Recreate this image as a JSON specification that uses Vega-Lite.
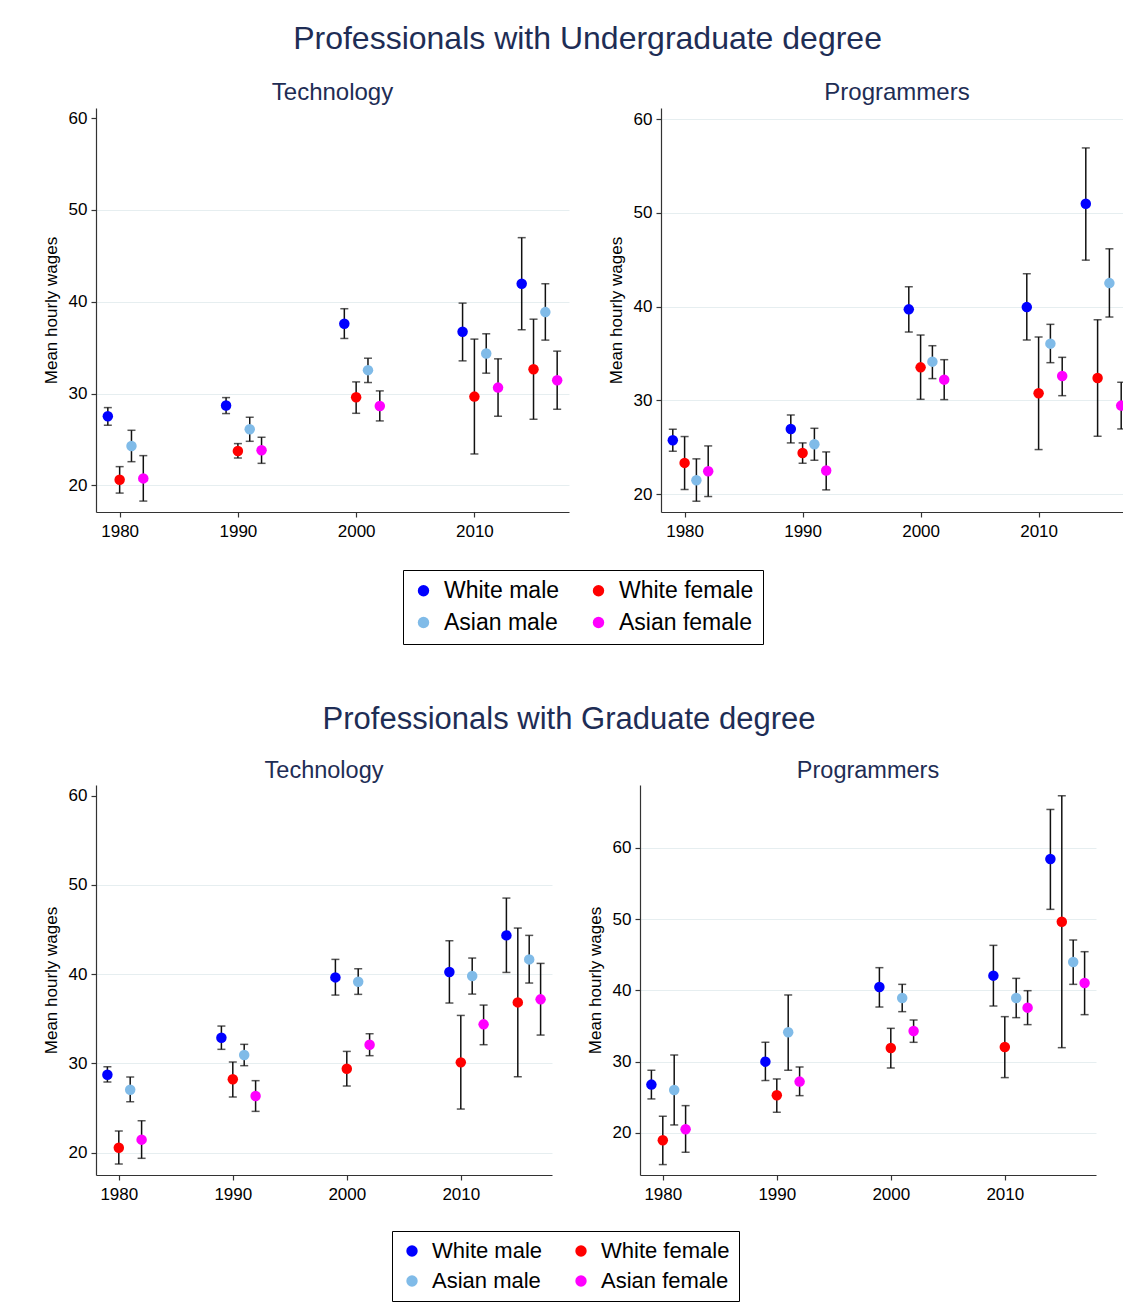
{
  "$schema": "https://vega.github.io/schema/vega-lite/v6.json",
  "background": "white",
  "padding": {"left": 42, "top": 23, "right": 0, "bottom": 0},
  "config": {
    "font": "Liberation Sans",
    "view": {"stroke": null},
    "axis": {"domainColor": "#333333", "tickColor": "#333333", "labelColor": "#000000", "labelFont": "Liberation Sans", "labelFontSize": 17, "titleFont": "Liberation Sans", "titleFontSize": 17, "titleFontWeight": "normal", "titleColor": "#000000", "gridColor": "#e6eef0", "tickSize": 5, "domainWidth": 1.2, "tickWidth": 1.2},
    "legend": {"labelFont": "Liberation Sans", "labelFontSize": 23, "labelColor": "#000000", "symbolType": "circle", "symbolSize": 130, "strokeColor": "#000000", "padding": 9, "columnPadding": 27, "rowPadding": 8, "labelOffset": 9, "symbolStrokeWidth": 0, "direction": "horizontal"}
  },
  "datasets": {
    "ugTech": [
      {"g": "White male", "yr": 1979, "m": 27.53, "lo": 26.55, "hi": 28.47},
      {"g": "White female", "yr": 1980, "m": 20.62, "lo": 19.16, "hi": 22.04},
      {"g": "Asian male", "yr": 1981, "m": 24.29, "lo": 22.58, "hi": 26.0},
      {"g": "Asian female", "yr": 1982, "m": 20.76, "lo": 18.29, "hi": 23.24},
      {"g": "White male", "yr": 1989, "m": 28.69, "lo": 27.82, "hi": 29.56},
      {"g": "White female", "yr": 1990, "m": 23.75, "lo": 22.98, "hi": 24.55},
      {"g": "Asian male", "yr": 1991, "m": 26.11, "lo": 24.8, "hi": 27.42},
      {"g": "Asian female", "yr": 1992, "m": 23.82, "lo": 22.4, "hi": 25.24},
      {"g": "White male", "yr": 1999, "m": 37.6, "lo": 36.0, "hi": 39.24},
      {"g": "White female", "yr": 2000, "m": 29.6, "lo": 27.85, "hi": 31.27},
      {"g": "Asian male", "yr": 2001, "m": 32.55, "lo": 31.2, "hi": 33.85},
      {"g": "Asian female", "yr": 2002, "m": 28.65, "lo": 27.02, "hi": 30.29},
      {"g": "White male", "yr": 2009, "m": 36.73, "lo": 33.56, "hi": 39.85},
      {"g": "White female", "yr": 2010, "m": 29.67, "lo": 23.42, "hi": 35.93},
      {"g": "Asian male", "yr": 2011, "m": 34.36, "lo": 32.22, "hi": 36.51},
      {"g": "Asian female", "yr": 2012, "m": 30.65, "lo": 27.53, "hi": 33.78},
      {"g": "White male", "yr": 2014, "m": 41.96, "lo": 36.95, "hi": 46.98},
      {"g": "White female", "yr": 2015, "m": 32.65, "lo": 27.2, "hi": 38.1},
      {"g": "Asian male", "yr": 2016, "m": 38.87, "lo": 35.82, "hi": 41.96},
      {"g": "Asian female", "yr": 2017, "m": 31.45, "lo": 28.29, "hi": 34.62}
    ],
    "ugProg": [
      {"g": "White male", "yr": 1979, "m": 25.75, "lo": 24.58, "hi": 26.93},
      {"g": "White female", "yr": 1980, "m": 23.34, "lo": 20.5, "hi": 26.15},
      {"g": "Asian male", "yr": 1981, "m": 21.49, "lo": 19.25, "hi": 23.77},
      {"g": "Asian female", "yr": 1982, "m": 22.45, "lo": 19.75, "hi": 25.15},
      {"g": "White male", "yr": 1989, "m": 26.96, "lo": 25.47, "hi": 28.45},
      {"g": "White female", "yr": 1990, "m": 24.4, "lo": 23.3, "hi": 25.47},
      {"g": "Asian male", "yr": 1991, "m": 25.33, "lo": 23.62, "hi": 27.03},
      {"g": "Asian female", "yr": 1992, "m": 22.52, "lo": 20.46, "hi": 24.51},
      {"g": "White male", "yr": 1999, "m": 39.72, "lo": 37.3, "hi": 42.13},
      {"g": "White female", "yr": 2000, "m": 33.53, "lo": 30.12, "hi": 36.98},
      {"g": "Asian male", "yr": 2001, "m": 34.14, "lo": 32.33, "hi": 35.84},
      {"g": "Asian female", "yr": 2002, "m": 32.22, "lo": 30.09, "hi": 34.35},
      {"g": "White male", "yr": 2009, "m": 39.96, "lo": 36.45, "hi": 43.52},
      {"g": "White female", "yr": 2010, "m": 30.76, "lo": 24.76, "hi": 36.77},
      {"g": "Asian male", "yr": 2011, "m": 36.06, "lo": 34.03, "hi": 38.12},
      {"g": "Asian female", "yr": 2012, "m": 32.61, "lo": 30.51, "hi": 34.6},
      {"g": "White male", "yr": 2014, "m": 50.98, "lo": 44.97, "hi": 56.94},
      {"g": "White female", "yr": 2015, "m": 32.4, "lo": 26.18, "hi": 38.61},
      {"g": "Asian male", "yr": 2016, "m": 42.52, "lo": 38.9, "hi": 46.18},
      {"g": "Asian female", "yr": 2017, "m": 29.45, "lo": 26.96, "hi": 31.94}
    ],
    "grTech": [
      {"g": "White male", "yr": 1979, "m": 28.74, "lo": 27.92, "hi": 29.63},
      {"g": "White female", "yr": 1980, "m": 20.56, "lo": 18.73, "hi": 22.43},
      {"g": "Asian male", "yr": 1981, "m": 27.06, "lo": 25.71, "hi": 28.48},
      {"g": "Asian female", "yr": 1982, "m": 21.46, "lo": 19.37, "hi": 23.58},
      {"g": "White male", "yr": 1989, "m": 32.88, "lo": 31.58, "hi": 34.19},
      {"g": "White female", "yr": 1990, "m": 28.22, "lo": 26.24, "hi": 30.16},
      {"g": "Asian male", "yr": 1991, "m": 30.94, "lo": 29.75, "hi": 32.14},
      {"g": "Asian female", "yr": 1992, "m": 26.35, "lo": 24.63, "hi": 28.07},
      {"g": "White male", "yr": 1999, "m": 39.64, "lo": 37.66, "hi": 41.66},
      {"g": "White female", "yr": 2000, "m": 29.41, "lo": 27.47, "hi": 31.35},
      {"g": "Asian male", "yr": 2001, "m": 39.16, "lo": 37.74, "hi": 40.61},
      {"g": "Asian female", "yr": 2002, "m": 32.1, "lo": 30.87, "hi": 33.33},
      {"g": "White male", "yr": 2009, "m": 40.24, "lo": 36.77, "hi": 43.75},
      {"g": "White female", "yr": 2010, "m": 30.12, "lo": 24.89, "hi": 35.38},
      {"g": "Asian male", "yr": 2011, "m": 39.79, "lo": 37.77, "hi": 41.81},
      {"g": "Asian female", "yr": 2012, "m": 34.38, "lo": 32.1, "hi": 36.54},
      {"g": "White male", "yr": 2014, "m": 44.35, "lo": 40.2, "hi": 48.53},
      {"g": "White female", "yr": 2015, "m": 36.84, "lo": 28.51, "hi": 45.17},
      {"g": "Asian male", "yr": 2016, "m": 41.66, "lo": 39.01, "hi": 44.35},
      {"g": "Asian female", "yr": 2017, "m": 37.18, "lo": 33.18, "hi": 41.21}
    ],
    "grProg": [
      {"g": "White male", "yr": 1979, "m": 26.78, "lo": 24.77, "hi": 28.79},
      {"g": "White female", "yr": 1980, "m": 18.97, "lo": 15.56, "hi": 22.34},
      {"g": "Asian male", "yr": 1981, "m": 26.03, "lo": 21.12, "hi": 30.93},
      {"g": "Asian female", "yr": 1982, "m": 20.51, "lo": 17.29, "hi": 23.83},
      {"g": "White male", "yr": 1989, "m": 30.0, "lo": 27.34, "hi": 32.71},
      {"g": "White female", "yr": 1990, "m": 25.28, "lo": 22.9, "hi": 27.57},
      {"g": "Asian male", "yr": 1991, "m": 34.11, "lo": 28.79, "hi": 39.35},
      {"g": "Asian female", "yr": 1992, "m": 27.2, "lo": 25.23, "hi": 29.25},
      {"g": "White male", "yr": 1999, "m": 40.47, "lo": 37.66, "hi": 43.18},
      {"g": "White female", "yr": 2000, "m": 31.92, "lo": 29.11, "hi": 34.67},
      {"g": "Asian male", "yr": 2001, "m": 38.93, "lo": 37.01, "hi": 40.84},
      {"g": "Asian female", "yr": 2002, "m": 34.3, "lo": 32.71, "hi": 35.84},
      {"g": "White male", "yr": 2009, "m": 42.06, "lo": 37.8, "hi": 46.31},
      {"g": "White female", "yr": 2010, "m": 32.06, "lo": 27.76, "hi": 36.31},
      {"g": "Asian male", "yr": 2011, "m": 38.93, "lo": 36.17, "hi": 41.68},
      {"g": "Asian female", "yr": 2012, "m": 37.57, "lo": 35.19, "hi": 39.95},
      {"g": "White male", "yr": 2014, "m": 58.41, "lo": 51.36, "hi": 65.37},
      {"g": "White female", "yr": 2015, "m": 49.63, "lo": 31.96, "hi": 67.29},
      {"g": "Asian male", "yr": 2016, "m": 43.97, "lo": 40.84, "hi": 47.06},
      {"g": "Asian female", "yr": 2017, "m": 41.03, "lo": 36.59, "hi": 45.42}
    ]
  },
  "spacing": 58,
  "resolve": {"scale": {"color": "independent", "x": "independent", "y": "independent"}, "legend": {"color": "independent"}},
  "vconcat": [
    {
      "title": {"text": "Professionals with Undergraduate degree", "fontSize": 32, "fontWeight": "normal", "color": "#1e2d55", "anchor": "middle", "offset": 25},
      "bounds": "flush",
      "spacing": 92,
      "resolve": {"scale": {"color": "independent", "x": "independent", "y": "independent"}, "legend": {"color": "independent"}},
      "hconcat": [
        {
          "width": 473, "height": 404,
          "title": {"text": "Technology", "fontSize": 24, "fontWeight": "normal", "color": "#1e2d55", "anchor": "middle", "frame": "group", "offset": 3},
          "data": {"name": "ugTech"},
          "encoding": {"x": {"field": "yr", "type": "quantitative", "scale": {"domain": [1978, 2018], "nice": false, "zero": false}, "axis": {"values": [1980, 1990, 2000, 2010], "format": "d", "title": null, "grid": false, "labelPadding": 6}}},
          "layer": [
            {"mark": {"type": "errorbar", "ticks": {"size": 8, "thickness": 1.5, "color": "#111111"}, "rule": {"strokeWidth": 1.5, "color": "#111111"}},
             "encoding": {"y": {"field": "lo", "type": "quantitative", "scale": {"domain": [17.1, 61.1], "nice": false, "zero": false}, "title": "Mean hourly wages"}, "y2": {"field": "hi"}}},
            {"mark": {"type": "point", "filled": true, "size": 110, "opacity": 1},
             "encoding": {"y": {"field": "m", "type": "quantitative", "scale": {"domain": [17.1, 61.1], "nice": false, "zero": false}, "title": "Mean hourly wages", "axis": {"values": [20, 30, 40, 50, 60], "grid": true, "titlePadding": 8, "labelPadding": 4, "gridOpacity": {"condition": {"test": "datum.value === 60", "value": 0}, "value": 1}}},
              "color": {"field": "g", "type": "nominal", "scale": {"domain": ["White male", "White female", "Asian male", "Asian female"], "range": ["#0000ff", "#ff0000", "#80bbe8", "#ff00ff"]}, "legend": {"orient": "none", "legendX": 307, "legendY": 462, "columns": 2, "title": null}}}}
          ]
        },
        {
          "width": 472, "height": 404,
          "title": {"text": "Programmers", "fontSize": 24, "fontWeight": "normal", "color": "#1e2d55", "anchor": "middle", "frame": "group", "offset": 3},
          "data": {"name": "ugProg"},
          "encoding": {"x": {"field": "yr", "type": "quantitative", "scale": {"domain": [1978, 2018], "nice": false, "zero": false}, "axis": {"values": [1980, 1990, 2000, 2010], "format": "d", "title": null, "grid": false, "labelPadding": 6}}},
          "layer": [
            {"mark": {"type": "errorbar", "ticks": {"size": 8, "thickness": 1.5, "color": "#111111"}, "rule": {"strokeWidth": 1.5, "color": "#111111"}},
             "encoding": {"y": {"field": "lo", "type": "quantitative", "scale": {"domain": [18.1, 61.2], "nice": false, "zero": false}, "title": "Mean hourly wages"}, "y2": {"field": "hi"}}},
            {"mark": {"type": "point", "filled": true, "size": 110, "opacity": 1},
             "encoding": {"y": {"field": "m", "type": "quantitative", "scale": {"domain": [18.1, 61.2], "nice": false, "zero": false}, "title": "Mean hourly wages", "axis": {"values": [20, 30, 40, 50, 60], "grid": true, "titlePadding": 8, "labelPadding": 4}},
              "color": {"field": "g", "type": "nominal", "scale": {"domain": ["White male", "White female", "Asian male", "Asian female"], "range": ["#0000ff", "#ff0000", "#80bbe8", "#ff00ff"]}, "legend": null}}}
          ]
        }
      ]
    },
    {
      "title": {"text": "Professionals with Graduate degree", "fontSize": 31, "fontWeight": "normal", "color": "#1e2d55", "anchor": "middle", "offset": 23},
      "bounds": "flush",
      "spacing": 88,
      "resolve": {"scale": {"color": "independent", "x": "independent", "y": "independent"}, "legend": {"color": "independent"}},
      "hconcat": [
        {
          "width": 456, "height": 390,
          "title": {"text": "Technology", "fontSize": 23.5, "fontWeight": "normal", "color": "#1e2d55", "anchor": "middle", "frame": "group", "offset": 3},
          "data": {"name": "grTech"},
          "encoding": {"x": {"field": "yr", "type": "quantitative", "scale": {"domain": [1978, 2018], "nice": false, "zero": false}, "axis": {"values": [1980, 1990, 2000, 2010], "format": "d", "title": null, "grid": false, "labelPadding": 6}}},
          "layer": [
            {"mark": {"type": "errorbar", "ticks": {"size": 8, "thickness": 1.5, "color": "#111111"}, "rule": {"strokeWidth": 1.5, "color": "#111111"}},
             "encoding": {"y": {"field": "lo", "type": "quantitative", "scale": {"domain": [17.5, 61.2], "nice": false, "zero": false}, "title": "Mean hourly wages"}, "y2": {"field": "hi"}}},
            {"mark": {"type": "point", "filled": true, "size": 110, "opacity": 1},
             "encoding": {"y": {"field": "m", "type": "quantitative", "scale": {"domain": [17.5, 61.2], "nice": false, "zero": false}, "title": "Mean hourly wages", "axis": {"values": [20, 30, 40, 50, 60], "grid": true, "titlePadding": 8, "labelPadding": 4, "gridOpacity": {"condition": {"test": "datum.value === 60", "value": 0}, "value": 1}}},
              "color": {"field": "g", "type": "nominal", "scale": {"domain": ["White male", "White female", "Asian male", "Asian female"], "range": ["#0000ff", "#ff0000", "#80bbe8", "#ff00ff"]}, "legend": {"orient": "none", "legendX": 296, "legendY": 446, "columns": 2, "title": null, "labelFontSize": 22}}}}
          ]
        },
        {
          "width": 456, "height": 390,
          "title": {"text": "Programmers", "fontSize": 23.5, "fontWeight": "normal", "color": "#1e2d55", "anchor": "middle", "frame": "group", "offset": 3},
          "data": {"name": "grProg"},
          "encoding": {"x": {"field": "yr", "type": "quantitative", "scale": {"domain": [1978, 2018], "nice": false, "zero": false}, "axis": {"values": [1980, 1990, 2000, 2010], "format": "d", "title": null, "grid": false, "labelPadding": 6}}},
          "layer": [
            {"mark": {"type": "errorbar", "ticks": {"size": 8, "thickness": 1.5, "color": "#111111"}, "rule": {"strokeWidth": 1.5, "color": "#111111"}},
             "encoding": {"y": {"field": "lo", "type": "quantitative", "scale": {"domain": [14.1, 68.8], "nice": false, "zero": false}, "title": "Mean hourly wages"}, "y2": {"field": "hi"}}},
            {"mark": {"type": "point", "filled": true, "size": 110, "opacity": 1},
             "encoding": {"y": {"field": "m", "type": "quantitative", "scale": {"domain": [14.1, 68.8], "nice": false, "zero": false}, "title": "Mean hourly wages", "axis": {"values": [20, 30, 40, 50, 60], "grid": true, "titlePadding": 8, "labelPadding": 4}},
              "color": {"field": "g", "type": "nominal", "scale": {"domain": ["White male", "White female", "Asian male", "Asian female"], "range": ["#0000ff", "#ff0000", "#80bbe8", "#ff00ff"]}, "legend": null}}}
          ]
        }
      ]
    }
  ]
}
